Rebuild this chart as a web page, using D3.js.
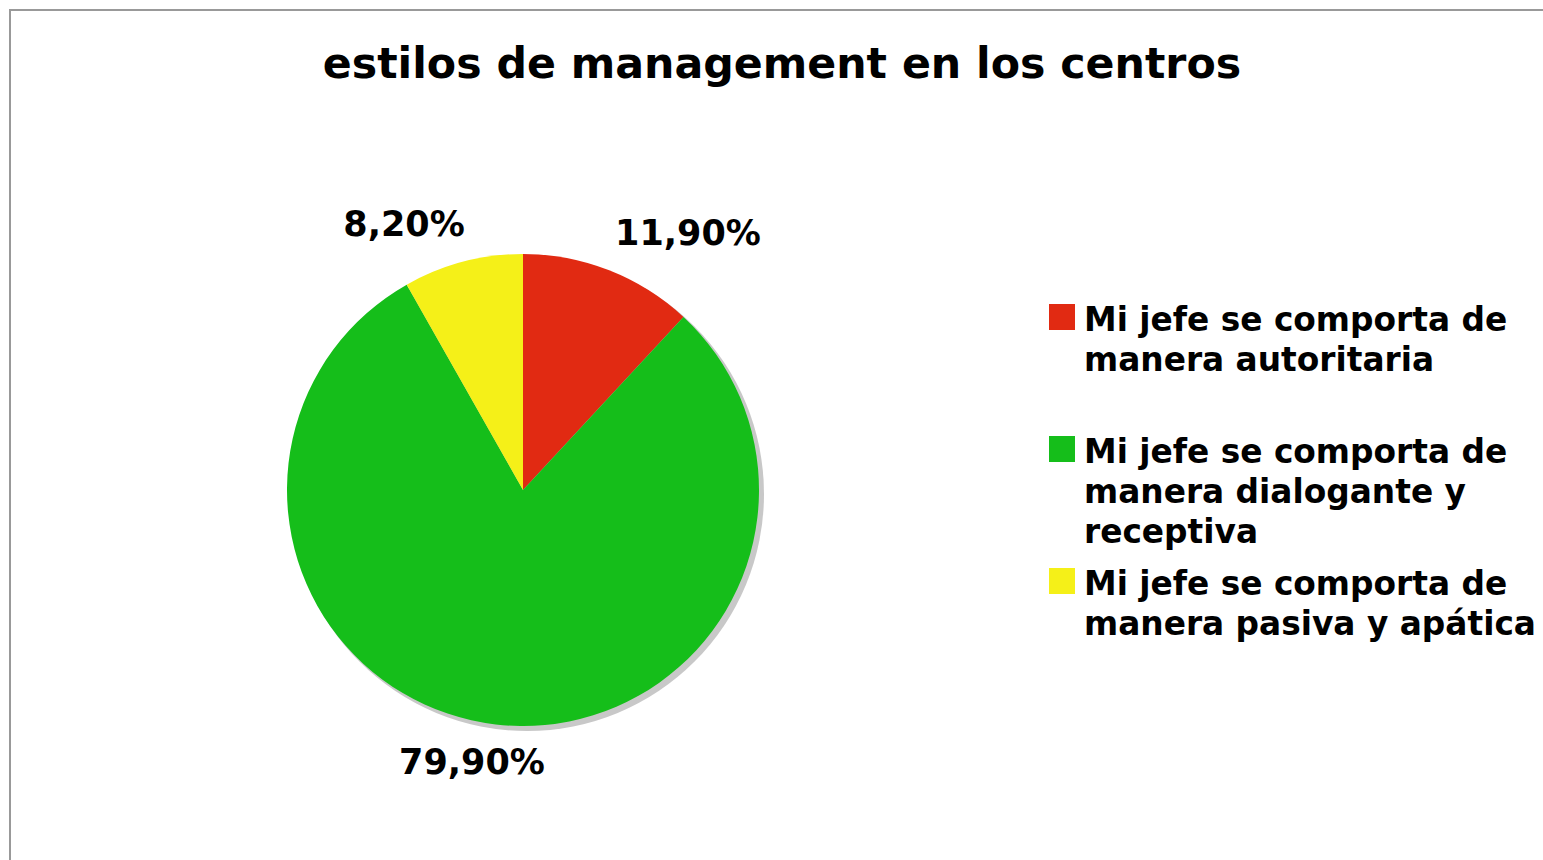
<!DOCTYPE html>
<html><head><meta charset="utf-8">
<script src="https://cdn.jsdelivr.net/npm/d3@7/dist/d3.min.js"></script>
<style>body{margin:0;background:#fff}svg{display:block}</style>
</head><body>
<svg id="chart" width="1543" height="860"></svg>
<script>
const title = "estilos de management en los centros";
const categories = [
  ["Mi jefe se comporta de", "manera autoritaria"],
  ["Mi jefe se comporta de", "manera dialogante y", "receptiva"],
  ["Mi jefe se comporta de", "manera pasiva y apática"]
];
const values = [11.9, 79.9, 8.2];
const valueLabels = ["11,90%", "79,90%", "8,20%"];
const colors = ["#e12a12", "#15be1a", "#f5f018"];

const svg = d3.select("#chart");
const font = "'DejaVu Sans', Verdana, sans-serif";

// frame
svg.append("path").attr("d", "M10,860 V10 H1543").attr("fill", "none")
  .attr("stroke", "#999").attr("stroke-width", 2);

svg.append("text").attr("x", 782).attr("y", 78).attr("text-anchor", "middle")
  .attr("font-family", font).attr("font-weight", "bold").attr("font-size", 42.7)
  .text(title);

const cx = 523, cy = 490, r = 236;
const pie = d3.pie().sort(null).value(d => d)(values);
const arc = d3.arc().innerRadius(0).outerRadius(r);
const g = svg.append("g").attr("transform", `translate(${cx},${cy})`);
g.append("circle").attr("cx", 4).attr("cy", 4).attr("r", r + 1).attr("fill", "#c8c8c8");
g.selectAll("path.s").data(pie).join("path").attr("class", "s")
  .attr("d", arc).attr("fill", (d, i) => colors[i]);

const labelPos = [[688, 245], [472, 774], [404, 236]];
svg.selectAll("text.v").data(pie).join("text").attr("class", "v")
  .attr("x", (d, i) => labelPos[i][0]).attr("y", (d, i) => labelPos[i][1])
  .attr("text-anchor", "middle").attr("font-family", font).attr("font-weight", "bold")
  .attr("font-size", 35).text((d, i) => valueLabels[i]);

const lg = svg.append("g");
categories.forEach((lines, i) => {
  const y0 = 304 + i * 132;
  lg.append("rect").attr("x", 1049).attr("y", y0).attr("width", 26).attr("height", 26)
    .attr("fill", colors[i]);
  const t = lg.append("text").attr("font-family", font).attr("font-weight", "bold")
    .attr("font-size", 32.8);
  lines.forEach((ln, j) => {
    t.append("tspan").attr("x", 1084).attr("y", y0 + 27 + j * 40).text(ln);
  });
});
</script>
</body></html>
